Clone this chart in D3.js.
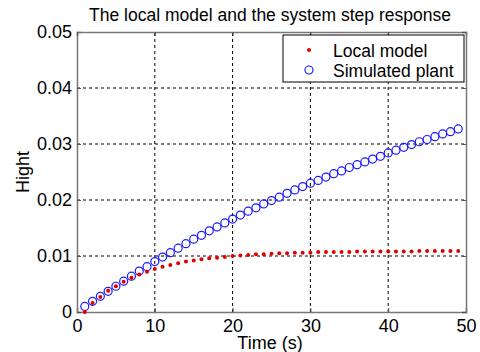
<!DOCTYPE html>
<html>
<head>
<meta charset="utf-8">
<script src="https://cdn.jsdelivr.net/npm/d3@7"></script>
<style>
  body { margin: 0; background: #fff; }
  text { font-family: "Liberation Sans", Arial, sans-serif; fill: #000; }
</style>
</head>
<body>
<div id="chart"></div>
<script>
// time samples (s)
const time = d3.range(1, 50);
// simulated plant response (blue circles)
const plant = [
  0.0010, 0.0019, 0.0028, 0.0037, 0.0046, 0.0055, 0.0064, 0.0073, 0.0081, 0.0090,
  0.0098, 0.0106, 0.0114, 0.0122, 0.0130, 0.0137, 0.0145, 0.0152, 0.0159, 0.0166,
  0.0173, 0.0180, 0.0186, 0.0193, 0.0199, 0.0205, 0.0212, 0.0218, 0.0224, 0.0230,
  0.0235, 0.0241, 0.0247, 0.0252, 0.0258, 0.0263, 0.0268, 0.0273, 0.0278, 0.0284,
  0.0289, 0.0294, 0.0299, 0.0304, 0.0308, 0.0313, 0.0318, 0.0322, 0.0327
];
// local model response (red dots)
const model = [
  0.0000, 0.0016, 0.0027, 0.0038, 0.0046, 0.0054, 0.0061, 0.0067, 0.0072, 0.0077,
  0.0081, 0.0084, 0.0087, 0.0090, 0.0092, 0.0094, 0.0096, 0.0097, 0.0098, 0.0100,
  0.0101, 0.0102, 0.0103, 0.0103, 0.0104, 0.0105, 0.0105, 0.0106, 0.0106, 0.0106,
  0.0107, 0.0107, 0.0107, 0.0107, 0.0107, 0.0108, 0.0108, 0.0108, 0.0108, 0.0108,
  0.0108, 0.0108, 0.0108, 0.0109, 0.0109, 0.0109, 0.0109, 0.0109, 0.0109
];
const xTicks = [0, 10, 20, 30, 40, 50];
const yTicks = [0, 0.01, 0.02, 0.03, 0.04, 0.05];
const legendLabels = ["Local model", "Simulated plant"];

const conf = {
  width: 480,
  height: 352,
  marginTop: 32,
  marginRight: 14,
  marginBottom: 40,
  marginLeft: 77,
};

const svg = d3.select("#chart").append("svg")
    .attr("width", conf.width)
    .attr("height", conf.height);

const x = d3.scaleLinear([0, 50], [conf.marginLeft, conf.width - conf.marginRight]);
const y = d3.scaleLinear([0, 0.05], [conf.height - conf.marginBottom, conf.marginTop]);

// grid
svg.append("g")
    .selectAll("line")
    .data(xTicks.slice(1, -1))
    .join("line")
      .attr("x1", d => x(d)).attr("x2", d => x(d))
      .attr("y1", y(0)).attr("y2", y(0.05))
      .attr("stroke", "#000")
      .attr("stroke-dasharray", "3,3");
svg.append("g")
    .selectAll("line")
    .data(yTicks.slice(1, -1))
    .join("line")
      .attr("x1", x(0)).attr("x2", x(50))
      .attr("y1", d => y(d)).attr("y2", d => y(d))
      .attr("stroke", "#000")
      .attr("stroke-dasharray", "3,3");

// axes (ticks inward, like matlab)
const xAxis = d3.axisBottom(x).tickValues(xTicks).tickSize(-4).tickPadding(7).tickFormat(d3.format("d"));
const yAxis = d3.axisLeft(y).tickValues(yTicks).tickSize(-4).tickPadding(5)
    .tickFormat(d => d === 0 ? "0" : d3.format(".2f")(d));

svg.append("g")
    .attr("transform", `translate(0,${y(0)})`)
    .call(xAxis);
svg.append("g")
    .attr("transform", `translate(${x(0)},0)`)
    .call(yAxis);
svg.append("g")
    .attr("transform", `translate(0,${y(0.05)})`)
    .call(d3.axisTop(x).tickValues(xTicks).tickSize(-4).tickFormat(""));
svg.append("g")
    .attr("transform", `translate(${x(50)},0)`)
    .call(d3.axisRight(y).tickValues(yTicks).tickSize(-4).tickFormat(""));

svg.selectAll(".domain").attr("stroke", "#777").attr("stroke-width", 1.5);
svg.selectAll(".tick line").attr("stroke", "#555");
svg.selectAll(".tick text").style("font-size", "18px").style("font-family", "Liberation Sans, Arial, sans-serif");

// data
svg.append("g")
    .selectAll("circle")
    .data(time)
    .join("circle")
      .attr("cx", (d, i) => x(d))
      .attr("cy", (d, i) => y(plant[i]))
      .attr("r", 4)
      .attr("fill", "none")
      .attr("stroke", "#1a1aff")
      .attr("stroke-width", 1.2);
svg.append("g")
    .selectAll("circle")
    .data(time)
    .join("circle")
      .attr("cx", (d, i) => x(d))
      .attr("cy", (d, i) => y(model[i]))
      .attr("r", 2)
      .attr("fill", "#e00000");

// titles
svg.append("text")
    .attr("x", 270).attr("y", 21)
    .attr("text-anchor", "middle")
    .style("font-size", "17.5px")
    .text("The local model and the system step response");
svg.append("text")
    .attr("x", 270).attr("y", 349)
    .attr("text-anchor", "middle")
    .style("font-size", "18px")
    .text("Time (s)");
svg.append("text")
    .attr("transform", "translate(29,172) rotate(-90)")
    .attr("text-anchor", "middle")
    .style("font-size", "18px")
    .text("Hight");

// legend
const lg = svg.append("g");
lg.append("rect")
    .attr("x", 283).attr("y", 35)
    .attr("width", 181).attr("height", 47)
    .attr("fill", "#fff")
    .attr("stroke", "#000");
lg.append("circle").attr("cx", 309).attr("cy", 50).attr("r", 2).attr("fill", "#e00000");
lg.append("circle").attr("cx", 309).attr("cy", 70).attr("r", 4)
    .attr("fill", "none").attr("stroke", "#1a1aff").attr("stroke-width", 1.2);
lg.selectAll("text")
    .data(legendLabels)
    .join("text")
      .attr("x", 333)
      .attr("y", (d, i) => 57 + i * 20)
      .style("font-size", "17.5px")
      .text(d => d);
</script>
</body>
</html>
